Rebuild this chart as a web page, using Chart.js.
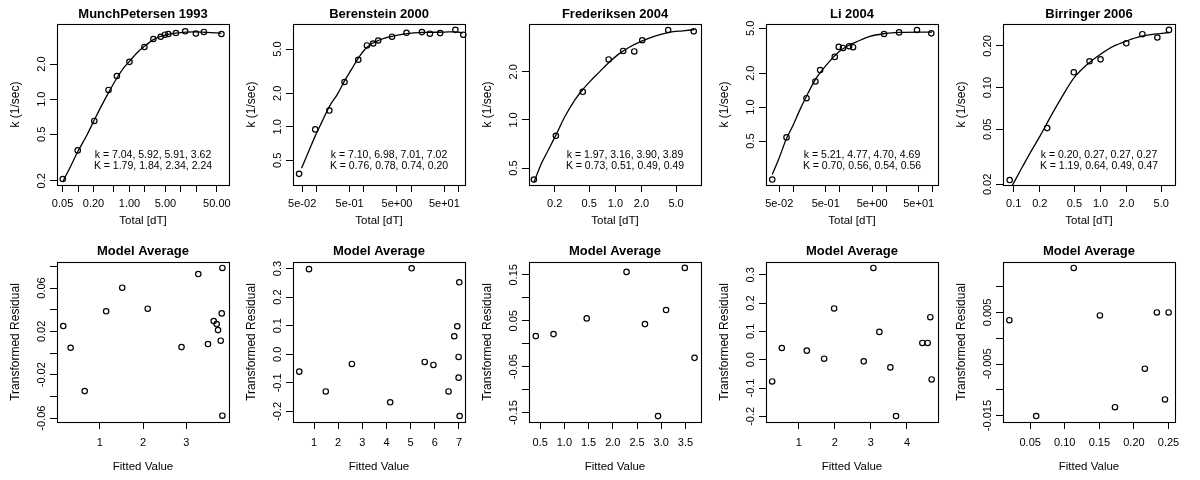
<!DOCTYPE html>
<html><head><meta charset="utf-8">
<script src="https://cdn.jsdelivr.net/npm/chart.js@4.4.1/dist/chart.umd.min.js"></script>
<style>
html,body{margin:0;padding:0;background:#fff;}
#wrap{position:relative;width:1200px;height:480px;overflow:hidden;background:#fff;}
</style></head>
<body><div id="wrap"></div>
<script>
// ---------- MunchPetersen 1993 ----------
const munchTotal = [0.0505, 0.0986, 0.207, 0.392, 0.569, 1.0, 1.95, 2.91, 4.04, 4.90, 5.69, 8.0, 12.1, 19.5, 27.9, 61.3];
const munchRate  = [0.207, 0.364, 0.651, 1.20, 1.58, 2.09, 2.80, 3.28, 3.43, 3.57, 3.62, 3.69, 3.82, 3.65, 3.77, 3.62];
const munchCurveTotal = [0.0505, 0.0711, 0.0986, 0.149, 0.207, 0.292, 0.392, 0.569, 0.765, 1.0, 1.39, 1.95, 2.91, 4.04, 5.69, 9.57, 17.3, 31.4, 61.3];
const munchCurveRate  = [0.196, 0.264, 0.355, 0.493, 0.664, 0.894, 1.14, 1.52, 1.85, 2.11, 2.49, 2.84, 3.24, 3.46, 3.60, 3.72, 3.77, 3.74, 3.67];
const munchFitted = [0.155, 0.326, 0.651, 1.147, 1.519, 2.109, 2.891, 3.279, 3.504, 3.636, 3.705, 3.736, 3.798, 3.822, 3.837, 3.837];
const munchResid  = [0.0249, 0.0049, -0.0351, 0.0385, 0.0603, 0.0409, 0.0055, 0.0729, 0.0083, 0.0295, 0.0268, 0.0212, 0.0114, 0.0366, 0.0785, -0.0578];
const munchParams = ["k = 7.04, 5.92, 5.91, 3.62", "K = 1.79, 1.84, 2.34, 2.24"];

// ---------- Berenstein 2000 ----------
const berTotal = [0.043, 0.0944, 0.187, 0.391, 0.763, 1.16, 1.57, 2.01, 3.93, 7.93, 16.8, 24.7, 40.8, 85.3, 125];
const berRate  = [0.378, 0.948, 1.40, 2.53, 4.01, 5.39, 5.61, 5.97, 6.46, 7.0, 7.10, 6.87, 6.96, 7.44, 6.73];
const berCurveTotal = [0.0483, 0.0676, 0.0944, 0.132, 0.187, 0.280, 0.391, 0.547, 0.763, 1.07, 1.49, 2.08, 3.44, 7.93, 18.3, 49.9, 82.4, 125];
const berCurveRate  = [0.424, 0.593, 0.829, 1.12, 1.52, 1.98, 2.59, 3.28, 4.15, 5.01, 5.61, 6.00, 6.42, 6.87, 7.05, 7.10, 7.15, 7.0];
const berFitted = [0.389, 0.792, 1.486, 2.569, 4.153, 5.042, 5.583, 5.944, 6.569, 6.806, 6.931, 6.986, 6.986, 7.014, 7.028];
const berResid  = [-0.0607, 0.298, -0.130, -0.0339, -0.168, 0.301, -0.0269, -0.0374, -0.130, 0.0631, 0.0981, -0.0093, -0.0818, 0.252, -0.216];
const berParams = ["k = 7.10, 6.98, 7.01, 7.02", "K = 0.76, 0.78, 0.74, 0.20"];

// ---------- Frederiksen 2004 ----------
const fredTotal = [0.115, 0.206, 0.421, 0.836, 1.23, 1.65, 2.04, 4.06, 8.0];
const fredRate  = [0.424, 0.796, 1.50, 2.39, 2.70, 2.68, 3.15, 3.65, 3.58];
const fredCurveTotal = [0.115, 0.140, 0.168, 0.206, 0.262, 0.343, 0.421, 0.536, 0.640, 0.836, 1.09, 1.43, 2.04, 2.92, 4.17, 5.96, 8.15];
const fredCurveRate  = [0.408, 0.532, 0.647, 0.804, 1.05, 1.34, 1.55, 1.79, 1.97, 2.28, 2.58, 2.84, 3.12, 3.36, 3.53, 3.61, 3.67];
const fredFitted = [0.410, 0.776, 1.461, 2.283, 2.663, 2.933, 3.099, 3.486, 3.686];
const fredResid  = [0.0165, 0.0209, 0.0551, 0.1563, 0.0427, -0.1576, 0.0733, 0.165, -0.0308];
const fredParams = ["k = 1.97, 3.16, 3.90, 3.89", "K = 0.73, 0.51, 0.49, 0.49"];

// ---------- Li 2004 ----------
const liTotal = [0.0354, 0.0718, 0.193, 0.301, 0.379, 0.783, 0.955, 1.18, 1.59, 1.94, 9.0, 18.9, 45.9, 93.3];
const liRate  = [0.228, 0.539, 1.20, 1.69, 2.13, 2.79, 3.42, 3.35, 3.47, 3.40, 4.45, 4.60, 4.83, 4.51];
const liCurveTotal = [0.0354, 0.0477, 0.0718, 0.100, 0.139, 0.193, 0.301, 0.405, 0.612, 0.924, 1.40, 2.29, 4.43, 9.0, 19.5, 52.5, 96.6];
const liCurveRate  = [0.253, 0.338, 0.527, 0.695, 0.946, 1.25, 1.76, 2.09, 2.56, 3.05, 3.45, 3.79, 4.24, 4.48, 4.60, 4.63, 4.63];
const liFitted = [0.261, 0.529, 1.222, 1.702, 1.979, 2.801, 3.068, 3.234, 3.539, 3.696, 4.426, 4.573, 4.647, 4.684];
const liResid  = [-0.0768, 0.0414, 0.0319, 0.0035, 0.181, -0.0059, 0.324, 0.0981, -0.0272, -0.199, 0.0591, 0.0591, 0.150, -0.0697];
const liParams = ["k = 5.21, 4.77, 4.70, 4.69", "K = 0.70, 0.56, 0.54, 0.56"];

// ---------- Birringer 2006 ----------
const birTotal = [0.0899, 0.243, 0.492, 0.746, 1.0, 1.98, 3.03, 4.51, 6.14];
const birRate  = [0.0215, 0.0510, 0.129, 0.155, 0.160, 0.209, 0.243, 0.230, 0.261];
const birCurveTotal = [0.0957, 0.119, 0.156, 0.203, 0.265, 0.361, 0.492, 0.702, 1.0, 1.43, 2.03, 2.90, 4.12, 6.14];
const birCurveRate  = [0.0195, 0.0251, 0.0341, 0.0452, 0.0615, 0.0861, 0.117, 0.147, 0.174, 0.200, 0.218, 0.234, 0.243, 0.250];
const birFitted = [0.0199, 0.0587, 0.113, 0.1508, 0.1726, 0.2158, 0.2332, 0.2449, 0.2502];
const birResid  = [0.0035, -0.0151, 0.01364, 0.00442, -0.01338, -0.00591, 0.005, -0.01188, 0.005];
const birParams = ["k = 0.20, 0.27, 0.27, 0.27", "K = 1.19, 0.64, 0.49, 0.47"];

// ---------- titles ----------
const studyTitles = ["MunchPetersen 1993", "Berenstein 2000", "Frederiksen 2004", "Li 2004", "Birringer 2006"];
const residTitle = "Model Average";
const topXTitle = "Total [dT]";
const topYTitle = "k (1/sec)";
const botXTitle = "Fitted Value";
const botYTitle = "Transformed Residual";

// ---------- tick values and labels ----------
const munchXTicks = [0.05, 0.1, 0.2, 0.5, 1, 2, 5, 10, 20, 50];
const munchXLabels = ["0.05", "", "0.20", "", "1.00", "", "5.00", "", "", "50.00"];
const munchYTicks = [0.2, 0.5, 1, 2];
const munchYLabels = ["0.2", "0.5", "1.0", "2.0"];
const berXTicks = [0.05, 0.1, 0.5, 1, 5, 10, 50, 100];
const berXLabels = ["5e-02", "", "5e-01", "", "5e+00", "", "5e+01", ""];
const berYTicks = [0.5, 1, 2, 5];
const berYLabels = ["0.5", "1.0", "2.0", "5.0"];
const fredXTicks = [0.2, 0.5, 1, 2, 5];
const fredXLabels = ["0.2", "0.5", "1.0", "2.0", "5.0"];
const fredYTicks = [0.5, 1, 2];
const fredYLabels = ["0.5", "1.0", "2.0"];
const liXTicks = [0.05, 0.1, 0.5, 1, 5, 10, 50, 100];
const liXLabels = ["5e-02", "", "5e-01", "", "5e+00", "", "5e+01", ""];
const liYTicks = [0.5, 1, 2, 5];
const liYLabels = ["0.5", "1.0", "2.0", "5.0"];
const birXTicks = [0.1, 0.2, 0.5, 1, 2, 5];
const birXLabels = ["0.1", "0.2", "0.5", "1.0", "2.0", "5.0"];
const birYTicks = [0.02, 0.05, 0.1, 0.2];
const birYLabels = ["0.02", "0.05", "0.10", "0.20"];

const munchResXTicks = [1, 2, 3];
const munchResXLabels = ["1", "2", "3"];
const munchResYTicks = [-0.06, -0.04, -0.02, 0, 0.02, 0.04, 0.06, 0.08];
const munchResYLabels = ["-0.06", "", "-0.02", "", "0.02", "", "0.06", ""];
const berResXTicks = [1, 2, 3, 4, 5, 6, 7];
const berResXLabels = ["1", "2", "3", "4", "5", "6", "7"];
const berResYTicks = [-0.2, -0.1, 0, 0.1, 0.2, 0.3];
const berResYLabels = ["-0.2", "-0.1", "0.0", "0.1", "0.2", "0.3"];
const fredResXTicks = [0.5, 1, 1.5, 2, 2.5, 3, 3.5];
const fredResXLabels = ["0.5", "1.0", "1.5", "2.0", "2.5", "3.0", "3.5"];
const fredResYTicks = [-0.15, -0.1, -0.05, 0, 0.05, 0.1, 0.15];
const fredResYLabels = ["-0.15", "", "-0.05", "", "0.05", "", "0.15"];
const liResXTicks = [1, 2, 3, 4];
const liResXLabels = ["1", "2", "3", "4"];
const liResYTicks = [-0.2, -0.1, 0, 0.1, 0.2, 0.3];
const liResYLabels = ["-0.2", "-0.1", "0.0", "0.1", "0.2", "0.3"];
const birResXTicks = [0.05, 0.1, 0.15, 0.2, 0.25];
const birResXLabels = ["0.05", "0.10", "0.15", "0.20", "0.25"];
const birResYTicks = [-0.015, -0.01, -0.005, 0, 0.005, 0.01];
const birResYLabels = ["-0.015", "", "-0.005", "", "0.005", ""];

// ---------- axis ranges ----------
const topXRange = [[0.039, 86], [0.032, 136], [0.101, 9.7], [0.026, 130], [0.0753, 7.2]];
const topYRange = [[0.184, 4.41], [0.335, 8.4], [0.392, 3.98], [0.204, 5.46], [0.0198, 0.288]];
const botXRange = [[0.01, 3.99], [0.13, 7.25], [0.27, 3.82], [0.09, 4.86], [0.0107, 0.2594]];
const botYRange = [[-0.0636, 0.0840], [-0.237, 0.323], [-0.1705, 0.1779], [-0.220, 0.345], [-0.01625, 0.01479]];

// ---------- layout / drawing ----------
const FONT = '"Liberation Sans", Arial, Helvetica, sans-serif';
Chart.defaults.font.family = FONT;
Chart.defaults.color = '#000';
const COLS = [57, 293, 529, 766, 1003];
const wrap = document.getElementById('wrap');

function decor(yLabels, annot) {
  return {
    id: 'decor',
    afterDraw(chart) {
      const ctx = chart.ctx, a = chart.chartArea, ys = chart.scales.y;
      ctx.save();
      ctx.strokeStyle = '#000'; ctx.lineWidth = 1.1;
      ctx.strokeRect(Math.round(a.left) + 0.5, Math.round(a.top) + 0.5,
                     Math.round(a.right - a.left), Math.round(a.bottom - a.top));
      ctx.fillStyle = '#000';
      ctx.font = '11px ' + FONT;
      ctx.textAlign = 'center'; ctx.textBaseline = 'middle';
      ys.ticks.forEach((t, i) => {
        const lab = yLabels[i];
        if (!lab) return;
        const py = ys.getPixelForValue(t.value);
        ctx.save(); ctx.translate(a.left - 15, py); ctx.rotate(-Math.PI / 2);
        ctx.fillText(lab, 0, 0); ctx.restore();
      });
      if (annot) {
        ctx.font = '10.5px ' + FONT;
        annot.forEach((s, k) => ctx.fillText(s, a.left + 96, a.top + 131.5 + 11 * k));
      }
      ctx.restore();
    }
  };
}

const gridOpts = { drawOnChartArea: false, drawTicks: true, tickLength: 7, tickColor: '#000', tickWidth: 1, color: '#000' };

function xScale(type, range, ticks, labels, title, h, tickPad, titleBottom) {
  return {
    type, position: 'bottom', min: range[0], max: range[1],
    afterBuildTicks: s => { s.ticks = ticks.map(v => ({ value: v })); },
    afterFit: s => { s.height = h; s.paddingLeft = 0; s.paddingRight = 0; },
    ticks: { autoSkip: false, maxRotation: 0, minRotation: 0, padding: tickPad, color: '#000',
             font: { size: 11 }, callback: (v, i) => labels[i] },
    grid: gridOpts,
    border: { display: false },
    title: { display: true, text: title, color: '#000', font: { size: 11.5 }, padding: { top: 0, bottom: titleBottom } }
  };
}
function yScale(type, range, ticks, labels, title) {
  return {
    type, position: 'left', min: range[0], max: range[1],
    afterBuildTicks: s => { s.ticks = ticks.map(v => ({ value: v })); },
    afterFit: s => { s.width = 57; s.paddingTop = 0; s.paddingBottom = 0; },
    ticks: { display: false, callback: (v, i) => labels[i] },
    grid: gridOpts,
    border: { display: false },
    title: { display: true, text: title, color: '#000', font: { size: 12 }, padding: { top: 8.2, bottom: 0 } }
  };
}

function pts(xs, ys) { return xs.map((x, i) => ({ x, y: ys[i] })); }

function panel(col, row, title, datasets, xs, ys, yLabels, annot) {
  const c = document.createElement('canvas');
  c.width = 236; c.height = 240;
  c.style.cssText = 'position:absolute;left:' + (COLS[col] - 57) + 'px;top:' + (row * 240) + 'px;width:236px;height:240px;';
  wrap.appendChild(c);
  new Chart(c, {
    type: 'scatter',
    data: { datasets },
    options: {
      responsive: false, animation: false, devicePixelRatio: 1, events: [],
      layout: { padding: { left: 0, right: 7, top: 0, bottom: 0 } },
      plugins: {
        legend: { display: false }, tooltip: { enabled: false },
        title: { display: true, text: title, fullSize: false, color: '#000',
                 font: { size: 13, weight: 'bold', lineHeight: 1.2 },
                 padding: row === 0 ? { top: 7, bottom: 1.4 } : { top: 3.4, bottom: 3 } }
      },
      scales: { x: xs, y: ys }
    },
    plugins: [decor(yLabels, annot)]
  });
}

function pointSet(data) {
  return { data, showLine: false, pointRadius: 2.7, pointBorderWidth: 1.2, pointBorderColor: '#000',
           pointBackgroundColor: 'rgba(0,0,0,0)', clip: false };
}
function curveSet(data) {
  return { data, showLine: true, pointRadius: 0, borderColor: '#000', borderWidth: 1.3,
           cubicInterpolationMode: 'monotone', fill: false };
}

const tops = [
  [munchTotal, munchRate, munchCurveTotal, munchCurveRate, munchXTicks, munchXLabels, munchYTicks, munchYLabels, munchParams],
  [berTotal, berRate, berCurveTotal, berCurveRate, berXTicks, berXLabels, berYTicks, berYLabels, berParams],
  [fredTotal, fredRate, fredCurveTotal, fredCurveRate, fredXTicks, fredXLabels, fredYTicks, fredYLabels, fredParams],
  [liTotal, liRate, liCurveTotal, liCurveRate, liXTicks, liXLabels, liYTicks, liYLabels, liParams],
  [birTotal, birRate, birCurveTotal, birCurveRate, birXTicks, birXLabels, birYTicks, birYLabels, birParams]
];
tops.forEach((d, i) => {
  panel(i, 0, studyTitles[i],
    [curveSet(pts(d[2], d[3])), pointSet(pts(d[0], d[1]))],
    xScale('logarithmic', topXRange[i], d[4], d[5], topXTitle, 55, 5.4, 12.4),
    yScale('logarithmic', topYRange[i], d[6], d[7], topYTitle),
    d[7], d[8]);
});

const bots = [
  [munchFitted, munchResid, munchResXTicks, munchResXLabels, munchResYTicks, munchResYLabels],
  [berFitted, berResid, berResXTicks, berResXLabels, berResYTicks, berResYLabels],
  [fredFitted, fredResid, fredResXTicks, fredResXLabels, fredResYTicks, fredResYLabels],
  [liFitted, liResid, liResXTicks, liResXLabels, liResYTicks, liResYLabels],
  [birFitted, birResid, birResXTicks, birResXLabels, birResYTicks, birResYLabels]
];
bots.forEach((d, i) => {
  panel(i, 1, residTitle,
    [pointSet(pts(d[0], d[1]))],
    xScale('linear', botXRange[i], d[2], d[3], botXTitle, 58, 7.4, 6.4),
    yScale('linear', botYRange[i], d[4], d[5], botYTitle),
    d[5], null);
});
</script>
</body></html>
